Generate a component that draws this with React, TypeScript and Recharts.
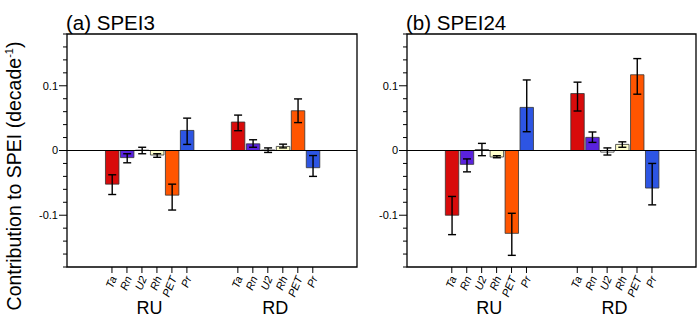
import { BarChart, Bar, Cell, XAxis, YAxis, ErrorBar, ReferenceLine, ReferenceArea } from 'recharts';

// drivers and regions
const variables = ['Ta', 'Rn', 'U2', 'Rh', 'PET', 'Pr'];
const regions = ['RU', 'RD'];
const barColors = ['#d80b0b', '#5a22de', '#ffffff', '#ffffcc', '#ff5500', '#2d55e3'];

// (a) SPEI3 contributions, decade^-1
const spei3RU = [-0.052, -0.011, 0.0005, -0.007, -0.069, 0.031];
const spei3RD = [0.044, 0.0103, 0.0008, 0.0063, 0.0614, -0.0266];
// error bar offsets [below, above]
const spei3RUErr = [[0.016, 0.0145], [0.008, 0.006], [0.0055, 0.0045], [0.0035, 0.002], [0.023, 0.017], [0.0216, 0.019]];
const spei3RDErr = [[0.0134, 0.0107], [0.0053, 0.0063], [0.0038, 0.0032], [0.0023, 0.0035], [0.0183, 0.0183], [0.0134, 0.0188]];

// (b) SPEI24
const spei24RU = [-0.1, -0.0214, 0.0015, -0.01, -0.128, 0.0666];
const spei24RD = [0.088, 0.0203, -0.0025, 0.0094, 0.117, -0.058];
const spei24RUErr = [[0.03, 0.029], [0.0116, 0.0084], [0.0095, 0.0095], [0.0012, 0.002], [0.034, 0.031], [0.0376, 0.0424]];
const spei24RDErr = [[0.027, 0.0176], [0.0078, 0.0083], [0.0045, 0.0065], [0.0044, 0.004], [0.03, 0.025], [0.026, 0.038]];

const yTicks = [-0.18, -0.16, -0.14, -0.12, -0.1, -0.08, -0.06, -0.04, -0.02, 0, 0.02, 0.04, 0.06, 0.08, 0.1, 0.12, 0.14, 0.16, 0.18];
const yMajor = [-0.1, 0, 0.1];

const X_MAX = 19.35;
const groupStart = [3, 11.4];
const FONT = '"Liberation Sans", Arial, Helvetica, sans-serif';

function buildRows(values: number[][], errs: number[][][]) {
  const rows: any[] = [];
  values.forEach((vals, g) => {
    vals.forEach((v, i) => {
      rows.push({ x: groupStart[g] + i, value: v, err: errs[g][i], color: barColors[i] });
    });
  });
  return rows;
}

const YTick = ({ x, y, payload }: any) => {
  const v = payload.value;
  const major = yMajor.includes(v);
  const len = major ? 8 : 4;
  return (
    <g>
      <line x1={x} x2={x - len} y1={y} y2={y} stroke="#000" strokeWidth={1} />
      {major && (
        <text x={x - len - 1} y={y} dy="0.35em" textAnchor="end" fontSize={11} fontFamily={FONT} fill="#000">
          {v === 0 ? '0' : String(v)}
        </text>
      )}
    </g>
  );
};

const CatTick = ({ x, y, index }: any) => (
  <g>
    <line x1={x} x2={x} y1={y} y2={y + 6} stroke="#000" strokeWidth={1} />
    <text
      transform={`translate(${x + 5},${y + 11}) rotate(-68)`}
      textAnchor="end"
      fontSize={11}
      fontStyle="italic"
      fontFamily={FONT}
      fill="#000"
    >
      {variables[index % variables.length]}
    </text>
  </g>
);

const GroupTick = ({ x, y, index }: any) => (
  <text x={x} y={y + 21} textAnchor="middle" fontSize={18} fontFamily={FONT} fill="#000">
    {regions[index]}
  </text>
);

function Panel({ values, errs, width, axisWidth }: any) {
  const rows = buildRows(values, errs);
  return (
    <BarChart width={width} height={335} data={rows} margin={{ top: 34, right: 4, bottom: 0, left: 0 }}>
      <XAxis
        xAxisId="cat"
        type="number"
        dataKey="x"
        domain={[0, X_MAX]}
        ticks={rows.map((r) => r.x)}
        interval={0}
        tick={<CatTick />}
        tickLine={false}
        axisLine={false}
        tickSize={0}
        tickMargin={0}
        height={26}
      />
      <XAxis
        xAxisId="grp"
        type="number"
        dataKey="x"
        domain={[0, X_MAX]}
        ticks={groupStart.map((s) => s + 2.5)}
        interval={0}
        tick={<GroupTick />}
        tickLine={false}
        axisLine={false}
        tickSize={0}
        tickMargin={0}
        height={42}
      />
      <YAxis
        type="number"
        domain={[-0.18, 0.18]}
        ticks={yTicks}
        interval={0}
        tick={<YTick />}
        tickLine={false}
        axisLine={false}
        tickSize={0}
        tickMargin={0}
        width={axisWidth}
      />
      <ReferenceArea xAxisId="cat" x1={0} x2={X_MAX} y1={-0.18} y2={0.18} fill="none" stroke="#000" strokeWidth={1.3} />
      <Bar xAxisId="cat" dataKey="value" barSize={15} stroke="#333" strokeWidth={0.8} isAnimationActive={false}>
        {rows.map((r, i) => (
          <Cell key={`c-${i}`} fill={r.color} />
        ))}
        <ErrorBar dataKey="err" width={4} stroke="#000" strokeWidth={1.4} direction="y" />
      </Bar>
      <ReferenceLine xAxisId="cat" y={0} stroke="#000" strokeWidth={1.2} />
    </BarChart>
  );
}

export default function App() {
  return (
    <div style={{ position: 'absolute', left: 0, top: 0, width: 700, height: 335, background: '#fff', fontFamily: FONT }}>
      <div style={{ position: 'absolute', left: 0, top: 0 }}>
        <Panel values={[spei3RU, spei3RD]} errs={[spei3RUErr, spei3RDErr]} width={361} axisWidth={67} />
      </div>
      <div style={{ position: 'absolute', left: 360, top: 0 }}>
        <Panel values={[spei24RU, spei24RD]} errs={[spei24RUErr, spei24RDErr]} width={340} axisWidth={47} />
      </div>
      <svg width={700} height={335} style={{ position: 'absolute', left: 0, top: 0, pointerEvents: 'none' }}>
        <text x={66} y={30} fontSize={20.5} fontFamily={FONT} fill="#000">(a) SPEI3</text>
        <text x={406} y={30} fontSize={20.5} fontFamily={FONT} fill="#000">(b) SPEI24</text>
        <text transform="translate(21,176) rotate(-90)" textAnchor="middle" fontSize={19.5} fontFamily={FONT} fill="#000">
          Contribution to SPEI (decade
          <tspan fontSize={11} dy={-8}>-1</tspan>
          <tspan dy={8}>)</tspan>
        </text>
      </svg>
    </div>
  );
}
